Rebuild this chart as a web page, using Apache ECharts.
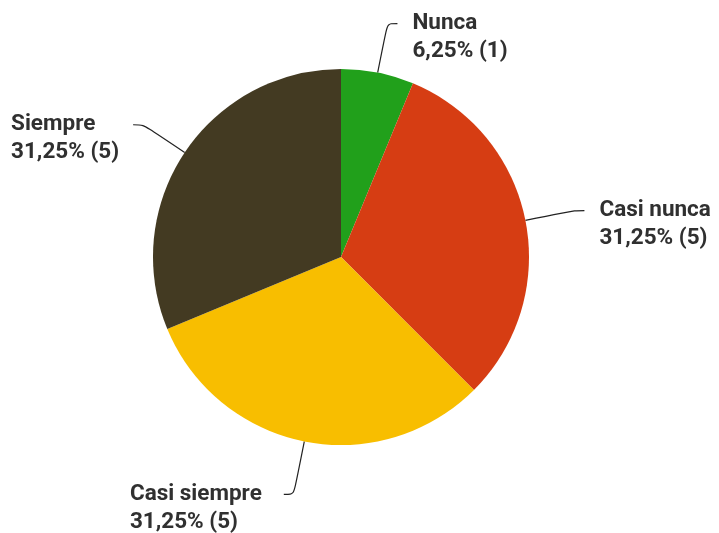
<!DOCTYPE html>
<html>
<head>
<meta charset="utf-8">
<script src="https://cdn.jsdelivr.net/npm/echarts@6/dist/echarts.min.js"></script>
<style>
  html, body { margin: 0; padding: 0; background: #FFFFFF; }
  #chart { width: 719px; height: 533px; }
</style>
</head>
<body>
<div id="chart"></div>
<script>
const categories = ['Nunca', 'Casi nunca', 'Casi siempre', 'Siempre'];
const counts = [1, 5, 5, 5];
const percents = ['6,25%', '31,25%', '31,25%', '31,25%'];
const colors = ['#21A01B', '#D63D13', '#F8BE00', '#433A22'];

// small per-slice tweaks so the leader lines land like the original
const lineLen = [50, 50, 54, 50];
const labelGap = [15, 15, 22, 14];

const data = categories.map((name, i) => ({
    name,
    value: counts[i],
    itemStyle: { color: colors[i] },
    label: { distanceToLabelLine: labelGap[i] },
    labelLine: { length: lineLen[i] }
}));

const chart = echarts.init(document.getElementById('chart'), null, { renderer: 'canvas' });
chart.setOption({
    backgroundColor: '#FFFFFF',
    animation: false,
    series: [{
        type: 'pie',
        center: [341, 257],
        radius: 188,
        startAngle: 90,
        clockwise: true,
        avoidLabelOverlap: false,
        label: {
            show: true,
            position: 'outside',
            bleedMargin: 0,
            padding: [28, 0, 0, 0],
            formatter: (p) => `{a|${p.name}}\n{a|${percents[p.dataIndex]} (${p.value})}`,
            rich: {
                a: { align: 'left', fontFamily: 'Roboto', fontWeight: 'bold', fontSize: 22.5, lineHeight: 28, color: '#303030' }
            }
        },
        labelLine: {
            show: true,
            length: 50,
            length2: 10,
            smooth: 0.3,
            lineStyle: { color: '#222222', width: 1.2 }
        },
        emphasis: { disabled: true },
        data
    }]
});
</script>
</body>
</html>
